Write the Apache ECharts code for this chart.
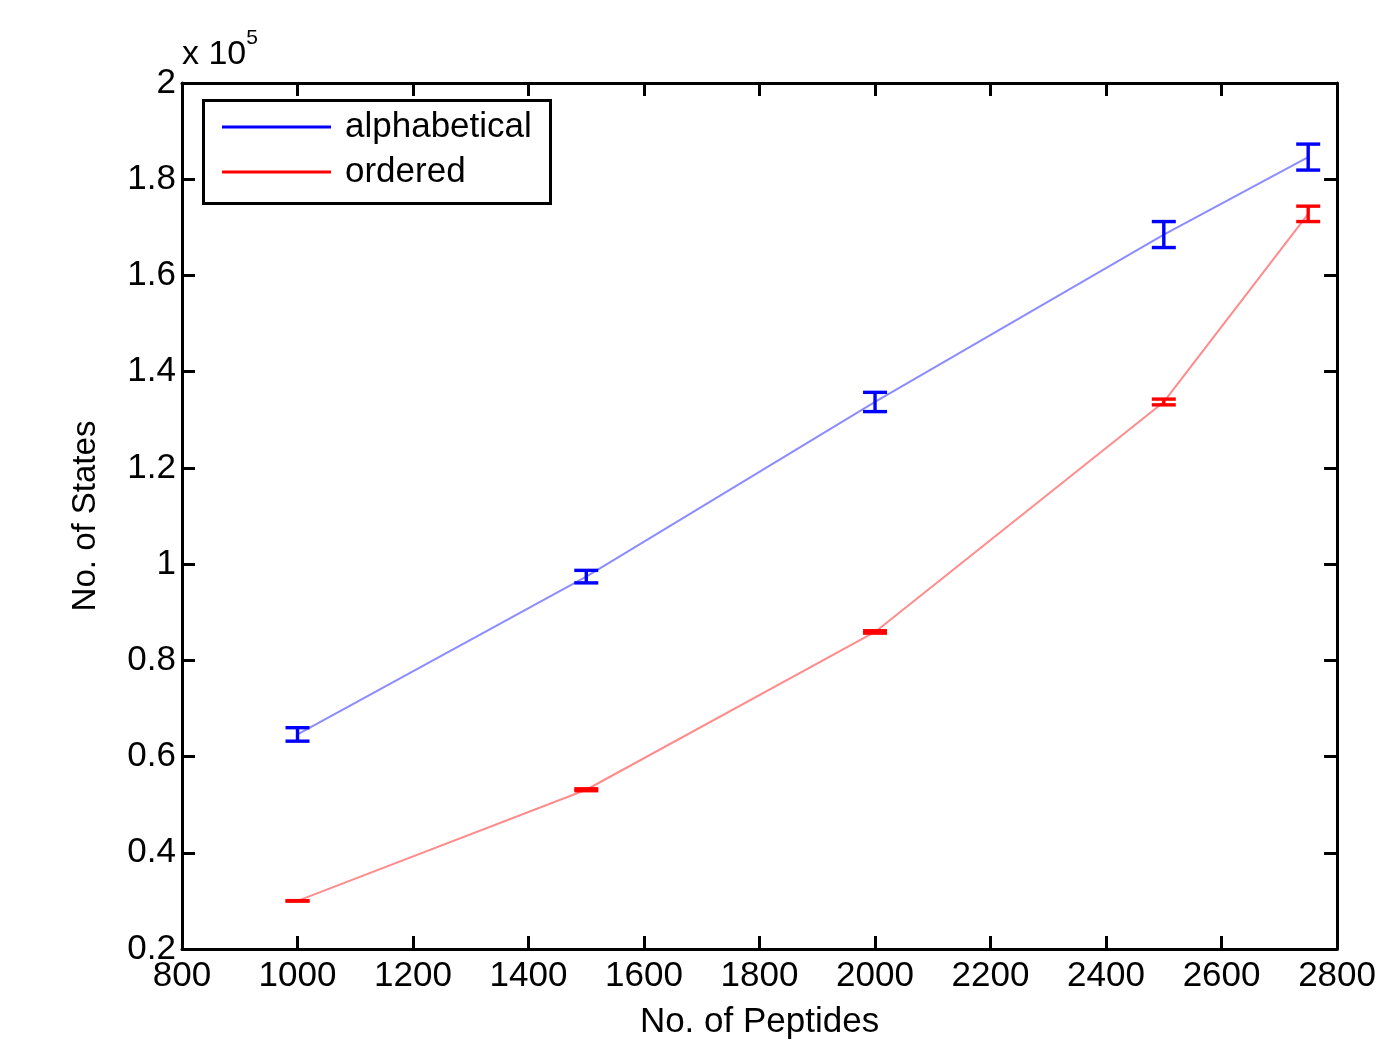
<!DOCTYPE html>
<html>
<head>
<meta charset="utf-8">
<script src="https://cdn.jsdelivr.net/npm/echarts@6/dist/echarts.min.js"></script>
<style>
html,body{margin:0;padding:0;background:#fff;}
#chart{width:1379px;height:1045px;}
</style>
</head>
<body>
<div id="chart"></div>
<script>
// Data (No. of States in absolute units; axis shows x 10^5)
const peptides = [1000, 1500, 2000, 2500, 2750];
const alphabeticalMean = [64600, 97400, 133700, 168500, 184600];
const alphabeticalErr  = [1400, 1300, 2000, 2700, 2700];
const orderedMean = [30000, 53100, 85900, 133700, 172800];
const orderedErr  = [50, 200, 250, 600, 1600];
const seriesNames = ['alphabetical', 'ordered'];

const FONT = '"Liberation Sans", Arial, Helvetica, sans-serif';
const chart = echarts.init(document.getElementById('chart'), null, {renderer: 'canvas'});

function pairs(xs, ys){ return xs.map((x,i)=>[x, ys[i]]); }
function errData(xs, m, e){ return xs.map((x,i)=>[x, m[i]-e[i], m[i]+e[i]]); }

function errRender(color){
  return function(params, api){
    const x = api.value(0), lo = api.value(1), hi = api.value(2);
    const pLo = api.coord([x, lo]);
    const pHi = api.coord([x, hi]);
    const hw = 12;
    const st = {stroke: color, lineWidth: 3.4};
    return {type:'group', children:[
      {type:'line', shape:{x1:pHi[0], y1:pHi[1], x2:pLo[0], y2:pLo[1]}, style: st},
      {type:'line', shape:{x1:pHi[0]-hw, y1:pHi[1], x2:pHi[0]+hw, y2:pHi[1]}, style: st},
      {type:'line', shape:{x1:pLo[0]-hw, y1:pLo[1], x2:pLo[0]+hw, y2:pLo[1]}, style: st}
    ]};
  };
}

const axisCommon = {
  axisLine: {show: true, lineStyle: {color: '#000', width: 3}},
  axisTick: {show: true, inside: true, length: 13, lineStyle: {color: '#000', width: 3}},
  splitLine: {show: false}
};

const option = {
  animation: false,
  backgroundColor: '#fff',
  grid: {left: 182, right: 41, top: 83, bottom: 95, containLabel: false},
  xAxis: [
    Object.assign({
      type: 'value', min: 800, max: 2800, interval: 200, position: 'bottom',
      name: 'No. of Peptides', nameLocation: 'middle', nameGap: 56,
      nameTextStyle: {fontFamily: FONT, fontSize: 35, color: '#000'},
      axisLabel: {fontFamily: FONT, fontSize: 35, color: '#000', margin: 10,
        formatter: v => String(v)}
    }, axisCommon),
    Object.assign({
      type: 'value', min: 800, max: 2800, interval: 200, position: 'top',
      axisLabel: {show: false}
    }, axisCommon)
  ],
  yAxis: [
    Object.assign({
      type: 'value', min: 20000, max: 200000, interval: 20000, position: 'left',
      name: 'No. of States', nameLocation: 'middle', nameGap: 80,
      nameTextStyle: {fontFamily: FONT, fontSize: 33, color: '#000'},
      axisLabel: {fontFamily: FONT, fontSize: 35, color: '#000', margin: 6,
        formatter: v => String(+(v/1e5).toFixed(1))}
    }, axisCommon),
    Object.assign({
      type: 'value', min: 20000, max: 200000, interval: 20000, position: 'right',
      axisLabel: {show: false}
    }, axisCommon)
  ],
  legend: {
    left: 222, top: 109, orient: 'vertical',
    padding: 0,
    itemWidth: 109, itemHeight: 3, itemGap: 9,
    textStyle: {fontFamily: FONT, fontSize: 35, color: '#000', lineHeight: 36, padding: [0,0,0,9]},
    data: [
      {name: seriesNames[0], icon: 'rect', itemStyle: {color: '#0000ff'}},
      {name: seriesNames[1], icon: 'rect', itemStyle: {color: '#ff0000'}}
    ],
    selectedMode: false
  },
  graphic: [
    {type: 'rect', left: 201, top: 98, shape: {width: 347, height: 103},
     style: {fill: null, stroke: '#000', lineWidth: 3}, z: 100},
    {type: 'text', left: 182, top: 28, style: {
      text: '{a|x 10}{b|5}', fill: '#000',
      rich: {a: {fontFamily: FONT, fontSize: 34, verticalAlign: 'bottom', lineHeight: 44},
             b: {fontFamily: FONT, fontSize: 21, verticalAlign: 'top', lineHeight: 44, padding: [0,0,22,0]}}
    }}
  ],
  series: [
    {name: seriesNames[0], type: 'line', data: pairs(peptides, alphabeticalMean),
     showSymbol: false, symbol: 'none', lineStyle: {color: '#8c8cff', width: 2}, itemStyle: {color: '#0000ff'}, z: 2},
    {name: seriesNames[1], type: 'line', data: pairs(peptides, orderedMean),
     showSymbol: false, symbol: 'none', lineStyle: {color: '#ff8c8c', width: 2}, itemStyle: {color: '#ff0000'}, z: 2},
    {name: seriesNames[0], type: 'custom', data: errData(peptides, alphabeticalMean, alphabeticalErr),
     renderItem: errRender('#0000ff'), itemStyle: {color: '#0000ff'}, encode: {x: 0, y: [1, 2]}, z: 3},
    {name: seriesNames[1], type: 'custom', data: errData(peptides, orderedMean, orderedErr),
     renderItem: errRender('#ff0000'), itemStyle: {color: '#ff0000'}, encode: {x: 0, y: [1, 2]}, z: 3}
  ]
};
chart.setOption(option);
</script>
</body>
</html>
